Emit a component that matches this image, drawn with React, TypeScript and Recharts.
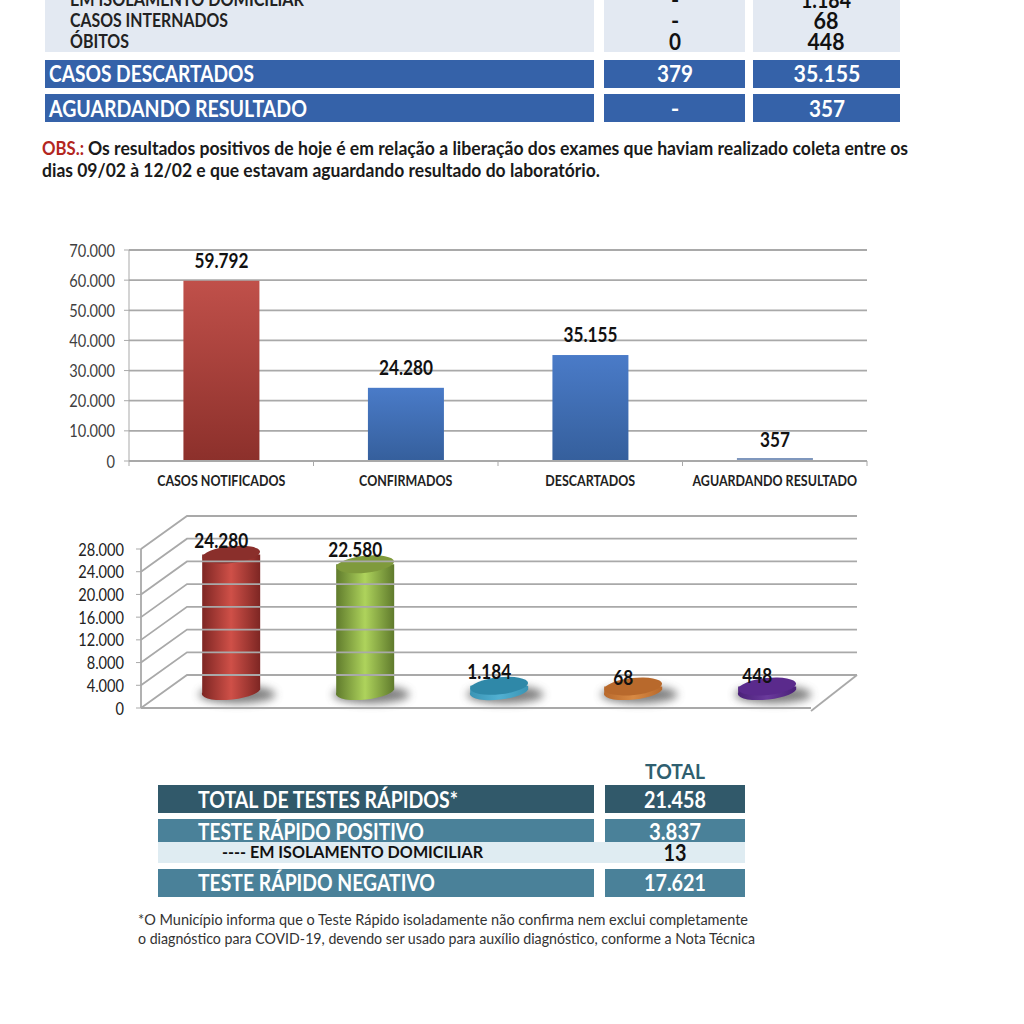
import { Bar, BarChart, CartesianGrid, Cell, LabelList, XAxis, YAxis } from 'recharts';

const FONT = 'Lato, sans-serif';

const topCategories = ['CASOS NOTIFICADOS', 'CONFIRMADOS', 'DESCARTADOS', 'AGUARDANDO RESULTADO'];
const topValues = [59792, 24280, 35155, 357];
const topGradients = ['url(#redBar)', 'url(#blueBar)', 'url(#blueBar)', '#7f97bd'];
const topTicks = [0, 10000, 20000, 30000, 40000, 50000, 60000, 70000];

const cylCategories = ['CONFIRMADOS', 'RECUPERADOS', 'ISOLAMENTO', 'INTERNADOS', 'ÓBITOS'];
const cylValues = [24280, 22580, 1184, 68, 448];
const cylSides = ['cylRed', 'cylGreen', 'cylTeal', 'cylOrange', 'cylPurple'];
const cylTops = ['#8a2f2b', '#7f9a3c', '#2f88a8', '#b8692c', '#5a2a8c'];
const cylTicks = [0, 4000, 8000, 12000, 16000, 20000, 24000, 28000];

const topData = topCategories.map((name, i) => ({ name, value: topValues[i], fill: topGradients[i] }));
const cylData = cylCategories.map((name, i) => ({ name, value: cylValues[i], side: cylSides[i], top: cylTops[i] }));

const fmt = (v: number) => String(v).replace(/\B(?=(\d{3})+$)/g, '.');

// depth of the fake 3D box
const DX = 46;
const DY = -33;
const TOP_LEFT = 129;
const TOP_BAND = 184.5;
const CYL_LEFT = 141;
const CYL_BAND = 134;
const CYL_RIGHT = CYL_LEFT + CYL_BAND * 5;
const SQUEEZE = 0.86;
const GRID = '#a9a9a9';

function T({ x, y, w, size, color = '#fff', weight = 700, anchor = 'start', children }: any) {
  return (
    <text
      x={x}
      y={y + size * 0.35}
      fontFamily={FONT}
      fontSize={size}
      fontWeight={weight}
      fill={color}
      textAnchor={anchor}
      textLength={w}
      lengthAdjust="spacingAndGlyphs"
    >
      {children}
    </text>
  );
}

function Squeezed({ x, y, size, anchor, weight, fill, children }: any) {
  return (
    <text
      transform={`translate(${x} ${y}) scale(${SQUEEZE} 1)`}
      fontFamily={FONT}
      fontSize={size}
      fontWeight={weight}
      fill={fill}
      textAnchor={anchor}
    >
      {children}
    </text>
  );
}

function TopYTick({ y, payload }: any) {
  return (
    <g>
      <line x1={TOP_LEFT - 5} x2={TOP_LEFT} y1={y} y2={y} stroke={GRID} />
      <Squeezed x={115} y={y + 6.5} size={17} anchor="end" weight={400} fill="#3f3f3f">
        {fmt(payload.value)}
      </Squeezed>
    </g>
  );
}

function TopXTick({ x, payload, index }: any) {
  const left = x - TOP_BAND / 2;
  return (
    <g>
      <line x1={left} x2={left} y1={461} y2={466} stroke={GRID} />
      {index === topCategories.length - 1 && (
        <line x1={left + TOP_BAND} x2={left + TOP_BAND} y1={461} y2={466} stroke={GRID} />
      )}
      <Squeezed x={x} y={486} size={14.5} anchor="middle" weight={700} fill="#222">
        {payload.value}
      </Squeezed>
    </g>
  );
}

function CylYTick({ y, payload }: any) {
  return (
    <g>
      <line x1={CYL_LEFT - 5} x2={CYL_LEFT} y1={y} y2={y} stroke={GRID} />
      <polyline
        points={`${CYL_LEFT},${y} ${CYL_LEFT + DX},${y + DY} ${CYL_RIGHT + DX},${y + DY}`}
        fill="none"
        stroke={GRID}
        strokeWidth={1.8}
      />
      {payload.value === 0 && (
        <line x1={CYL_RIGHT} x2={CYL_RIGHT + DX} y1={y + 3} y2={y + DY} stroke={GRID} strokeWidth={1.8} />
      )}
      <Squeezed x={124} y={y + 6.5} size={17} anchor="end" weight={400} fill="#222">
        {fmt(payload.value)}
      </Squeezed>
    </g>
  );
}

function CylXTick({ x, payload, index }: any) {
  const left = x - CYL_BAND / 2;
  return (
    <g>
      <line x1={left} x2={left} y1={708} y2={713} stroke={GRID} />
      {index === cylCategories.length - 1 && (
        <line x1={left + CYL_BAND} x2={left + CYL_BAND} y1={708} y2={713} stroke={GRID} />
      )}
      <Squeezed x={x} y={734} size={14.5} anchor="middle" weight={700} fill="#222">
        {payload.value}
      </Squeezed>
    </g>
  );
}

// tiny values still need a visible sliver above the axis line
function FlatBar({ x, y, width, height, fill }: any) {
  const h = Math.max(height, 3);
  return <rect x={x} y={y + height - h} width={width} height={h} fill={fill} />;
}

// cylinder stands in the middle of the floor, so shift it into the box
function Cylinder({ x, y, width, height, payload }: any) {
  const cx = x + width / 2 + DX / 2;
  const rx = width / 2;
  const ry = 8.5;
  const rot = -6;
  const top = y + DY / 2 + 1;
  const base = y + height + DY / 2 + 1;
  const thick = Math.max(base - top, 6);
  return (
    <g>
      <ellipse cx={cx + 6} cy={base + 2} rx={rx * 1.32} ry={ry * 1.05} fill="#555" opacity={0.75} filter="url(#soft)" />
      <path
        d={`M${cx - rx},${base - thick} L${cx - rx},${base} A${rx} ${ry} ${rot} 0 0 ${cx + rx},${base - 3} L${cx + rx},${base - thick} Z`}
        fill={`url(#${payload.side})`}
      />
      <ellipse
        cx={cx}
        cy={base - thick}
        rx={rx}
        ry={ry}
        fill={payload.top}
        transform={`rotate(${rot} ${cx} ${base - thick})`}
      />
    </g>
  );
}

function CylLabel({ x, y, width, value }: any) {
  return (
    <Squeezed x={x + width / 2 + DX / 2 - 10} y={y + DY / 2 - 6} size={20} anchor="middle" weight={700} fill="#111">
      {fmt(value)}
    </Squeezed>
  );
}

function sideGrad(id: string, edge: string, mid: string) {
  return (
    <linearGradient key={id} id={id} x1="0" x2="1" y1="0" y2="0">
      <stop offset="0" stopColor={edge} />
      <stop offset="0.5" stopColor={mid} />
      <stop offset="1" stopColor={edge} />
    </linearGradient>
  );
}

export default function App() {
  return (
    <div style={{ position: 'absolute', left: 0, top: 0, width: 1024, height: 1024, background: '#fff', overflow: 'hidden' }}>
      <svg width={1024} height={1024} style={{ position: 'absolute', left: 0, top: 0 }}>
        {/* upper table */}
        <rect x={45} y={0} width={549} height={52} fill="#e3e9f2" />
        <rect x={604} y={0} width={141} height={52} fill="#e3e9f2" />
        <rect x={753} y={0} width={147} height={52} fill="#e3e9f2" />
        <T x={70} y={0} w={234} size={18} color="#222">EM ISOLAMENTO DOMICILIAR</T>
        <T x={70} y={21} w={158} size={18} color="#222">CASOS INTERNADOS</T>
        <T x={70} y={42} w={59} size={18} color="#222">ÓBITOS</T>
        <T x={675} y={0} size={22} color="#111" anchor="middle">-</T>
        <T x={675} y={21} size={22} color="#111" anchor="middle">-</T>
        <T x={675} y={42} w={12} size={23} color="#111" anchor="middle">0</T>
        <T x={826} y={0} w={50} size={23} color="#111" anchor="middle">1.184</T>
        <T x={826} y={21} w={25} size={23} color="#111" anchor="middle">68</T>
        <T x={826} y={42} w={37} size={23} color="#111" anchor="middle">448</T>

        <rect x={45} y={60} width={549} height={28} fill="#3562a9" />
        <rect x={604} y={60} width={141} height={28} fill="#3562a9" />
        <rect x={753} y={60} width={147} height={28} fill="#3562a9" />
        <T x={49} y={74} w={205} size={23}>CASOS DESCARTADOS</T>
        <T x={675} y={74} w={36} size={23} anchor="middle">379</T>
        <T x={827} y={74} w={67} size={23} anchor="middle">35.155</T>

        <rect x={45} y={94} width={549} height={28} fill="#3562a9" />
        <rect x={604} y={94} width={141} height={28} fill="#3562a9" />
        <rect x={753} y={94} width={147} height={28} fill="#3562a9" />
        <T x={49} y={109} w={258} size={23}>AGUARDANDO RESULTADO</T>
        <T x={675} y={109} size={23} anchor="middle">-</T>
        <T x={827} y={109} w={36} size={23} anchor="middle">357</T>

        {/* note */}
        <T x={42} y={149} w={42} size={18} color="#b3261e">OBS.:</T>
        <T x={88} y={149} w={820} size={18} color="#1a1a1a">Os resultados positivos de hoje é em relação a liberação dos exames que haviam realizado coleta entre os</T>
        <T x={42} y={171} w={558} size={18} color="#1a1a1a">dias 09/02 à 12/02 e que estavam aguardando resultado do laboratório.</T>

        {/* lower table */}
        <T x={675} y={772} w={60} size={20} color="#2f5f70" anchor="middle">TOTAL</T>
        <rect x={158} y={785} width={436} height={28} fill="#31596a" />
        <rect x={605} y={785} width={140} height={28} fill="#31596a" />
        <T x={198} y={800} w={260} size={22}>TOTAL DE TESTES RÁPIDOS*</T>
        <T x={675} y={800} w={62} size={22} anchor="middle">21.458</T>
        <rect x={158} y={819} width={436} height={23} fill="#4a8199" />
        <rect x={605} y={819} width={140} height={23} fill="#4a8199" />
        <T x={198} y={832} w={226} size={22}>TESTE RÁPIDO POSITIVO</T>
        <T x={675} y={832} w={52} size={22} anchor="middle">3.837</T>
        <rect x={158} y={842} width={587} height={21} fill="#dfecf2" />
        <T x={222} y={852} w={261} size={17} color="#111">---- EM ISOLAMENTO DOMICILIAR</T>
        <T x={675} y={853} w={23} size={22} color="#111" anchor="middle">13</T>
        <rect x={158} y={869} width={436} height={28} fill="#4a8199" />
        <rect x={605} y={869} width={140} height={28} fill="#4a8199" />
        <T x={198} y={883} w={237} size={22}>TESTE RÁPIDO NEGATIVO</T>
        <T x={675} y={883} w={62} size={22} anchor="middle">17.621</T>

        <T x={138} y={920} w={610} size={15} color="#333" weight={400}>*O Município informa  que o Teste Rápido isoladamente não confirma nem exclui completamente</T>
        <T x={138} y={939} w={617} size={15} color="#333" weight={400}>o diagnóstico para COVID-19, devendo ser usado para auxílio diagnóstico, conforme a Nota Técnica</T>
      </svg>

      <div style={{ position: 'absolute', left: 0, top: 0 }}>
        <BarChart
          width={1024}
          height={501}
          data={topData}
          barCategoryGap="29.5%"
          margin={{ top: 250, right: 157, left: 0, bottom: 0 }}
        >
          <defs>
            <linearGradient id="redBar" x1="0" x2="0" y1="0" y2="1">
              <stop offset="0" stopColor="#c0504a" />
              <stop offset="1" stopColor="#8c302b" />
            </linearGradient>
            <linearGradient id="blueBar" x1="0" x2="0" y1="0" y2="1">
              <stop offset="0" stopColor="#4a7bc8" />
              <stop offset="1" stopColor="#355f9c" />
            </linearGradient>
          </defs>
          <CartesianGrid vertical={false} stroke={GRID} strokeWidth={1.8} />
          <XAxis dataKey="name" interval={0} height={40} stroke={GRID} strokeWidth={1.8} tickLine={false} tick={<TopXTick />} />
          <YAxis width={TOP_LEFT} domain={[0, 70000]} ticks={topTicks} interval={0} stroke={GRID} tickLine={false} tick={<TopYTick />} />
          <Bar dataKey="value" isAnimationActive={false} shape={<FlatBar />}>
            {topData.map((d) => (
              <Cell key={d.name} fill={d.fill} />
            ))}
            <LabelList
              dataKey="value"
              content={(p: any) => (
                <Squeezed x={p.x + p.width / 2} y={p.y - 13} size={20} anchor="middle" weight={700} fill="#111">
                  {fmt(p.value)}
                </Squeezed>
              )}
            />
          </Bar>
        </BarChart>
      </div>

      <div style={{ position: 'absolute', left: 0, top: 500 }}>
        <BarChart
          width={1024}
          height={250}
          data={cylData}
          barCategoryGap="28.5%"
          margin={{ top: 49, right: 213, left: 0, bottom: 0 }}
        >
          <defs>
            <filter id="soft" x="-40%" y="-100%" width="180%" height="300%">
              <feGaussianBlur stdDeviation="4" />
            </filter>
            {sideGrad('cylRed', '#7d2623', '#cf5048')}
            {sideGrad('cylGreen', '#5f7a2c', '#aed35c')}
            {sideGrad('cylTeal', '#3a94b4', '#52b0d2')}
            {sideGrad('cylOrange', '#b8692c', '#d88a44')}
            {sideGrad('cylPurple', '#4a2078', '#6a3a9c')}
          </defs>
          <XAxis dataKey="name" interval={0} height={42} stroke={GRID} strokeWidth={1.8} tickLine={false} tick={<CylXTick />} />
          <YAxis width={CYL_LEFT} domain={[0, 28000]} ticks={cylTicks} interval={0} stroke={GRID} strokeWidth={1.8} tickLine={false} tick={<CylYTick />} />
          <Bar dataKey="value" isAnimationActive={false} shape={<Cylinder />}>
            <LabelList dataKey="value" content={<CylLabel />} />
          </Bar>
        </BarChart>
      </div>
    </div>
  );
}
